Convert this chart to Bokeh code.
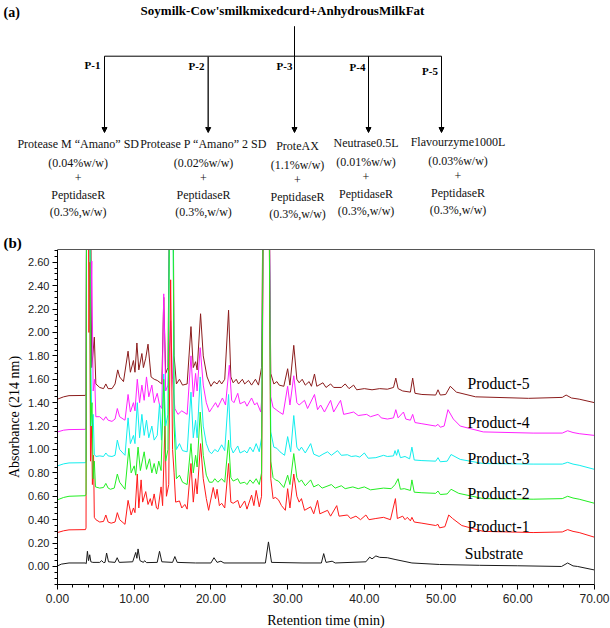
from bokeh.plotting import figure
from bokeh.models import (Range1d, ColumnDataSource, SingleIntervalTicker,
                          PrintfTickFormatter, Arrow, NormalHead, BoxAnnotation)
from bokeh.embed import file_html
from bokeh.resources import INLINE
from bokeh.core.properties import value

# ---------------- data ----------------
panel_a_tag = "(a)"
panel_b_tag = "(b)"
title_text = "Soymilk-Cow'smilkmixedcurd+AnhydrousMilkFat"
branch_labels = ["P-1", "P-2", "P-3", "P-4", "P-5"]
enzyme_names = ["Protease M \u201cAmano\u201d SD", "Protease P \u201cAmano\u201d 2 SD",
                "ProteAX", "Neutrase0.5L", "Flavourzyme1000L"]
enzyme_doses = ["(0.04%w/w)", "(0.02%w/w)", "(1.1%w/w)", "(0.01%w/w)", "(0.03%w/w)"]
plus_sign = "+"
peptidase_name = "PeptidaseR"
peptidase_dose = "(0.3%,w/w)"

x_label = "Retention time (min)"
y_label = "Absorbance (214 nm)"
t_min, t_max = 0, 70
a_min, a_max = -0.154, 2.709

substrate = [(0, 0.005), (0.5, 0.02), (1.5, 0.03), (3.6, 0.03), (3.75, 0.025), (3.9, 0.13),
             (4.05, 0.05), (4.2, 0.10), (4.35, 0.04), (4.6, 0.035), (5.5, 0.035), (5.76, 0.05),
             (6.0, 0.033), (6.2, 0.035), (6.4, 0.115), (6.65, 0.04), (7.5, 0.035), (7.78, 0.075),
             (8.05, 0.035), (9.8, 0.04), (10.2, 0.12), (10.35, 0.07), (10.5, 0.15), (10.75, 0.05),
             (11.2, 0.035), (11.35, 0.05), (11.6, 0.033), (13.0, 0.035), (13.3, 0.13), (13.6, 0.04),
             (15.0, 0.035), (15.3, 0.085), (15.6, 0.035), (18.0, 0.03), (20.0, 0.03), (20.4, 0.075),
             (20.8, 0.035), (21.3, 0.045), (21.7, 0.03), (27.1, 0.03), (27.5, 0.21), (27.9, 0.035),
             (32.0, 0.03), (34.4, 0.03), (34.7, 0.11), (35.0, 0.035), (35.8, 0.045), (36.2, 0.03),
             (40.2, 0.04), (40.7, 0.08), (41.0, 0.065), (41.5, 0.09), (42.0, 0.078), (43.0, 0.075),
             (44.0, 0.06), (46.2, 0.03), (49.8, 0.017), (55.0, 0.01), (60.0, 0.006), (65.7, 0.0),
             (66.5, 0.03), (67.2, 0.005), (67.8, 0.0), (70.0, -0.03)]

product_1 = [(0, 0.29), (0.8, 0.305), (1.5, 0.313), (3.65, 0.315), (3.72, 0.33), (3.8, 3.5),
             (4.0, 3.5), (4.1, 2.0), (4.2, 2.6), (4.3, 0.9), (4.45, 1.2), (4.55, 0.7), (4.7, 0.95),
             (4.8, 0.42), (5.0, 0.40), (5.5, 0.38), (6.0, 0.385), (6.3, 0.44), (6.6, 0.38),
             (7.0, 0.37), (7.5, 0.38), (7.8, 0.46), (8.1, 0.40), (8.8, 0.36), (9.2, 0.565),
             (9.6, 0.44), (9.9, 0.50), (10.1, 0.46), (10.4, 0.79), (10.6, 0.50), (10.9, 0.74),
             (11.1, 0.55), (11.5, 0.64), (11.8, 0.53), (12.1, 0.58), (12.3, 0.52), (12.6, 0.62),
             (12.9, 0.50), (13.1, 0.49), (13.5, 0.68), (13.7, 0.52), (14.0, 1.2), (14.2, 0.6),
             (14.5, 0.7), (14.75, 2.45), (15.0, 1.0), (15.2, 0.8), (15.4, 0.55), (15.9, 0.56),
             (16.2, 0.50), (16.6, 0.53), (16.9, 0.49), (17.4, 0.88), (17.7, 0.55), (18.0, 0.75),
             (18.2, 0.62), (18.65, 1.05), (19.0, 0.75), (19.4, 0.58), (19.7, 0.48), (20.3, 0.675),
             (20.6, 0.58), (20.8, 0.66), (21.1, 0.52), (21.4, 0.54), (21.8, 0.50), (22.3, 0.88),
             (22.6, 0.55), (22.9, 0.54), (23.5, 0.565), (23.8, 0.50), (24.4, 0.56), (24.7, 0.49),
             (25.3, 0.61), (25.6, 0.52), (25.9, 0.65), (26.3, 0.51), (26.6, 0.6), (26.9, 4.0),
             (27.5, 4.0), (27.8, 0.75), (28.1, 0.58), (28.4, 0.59), (28.8, 0.57), (29.2, 0.52),
             (29.7, 0.48), (30.0, 0.665), (30.3, 0.50), (30.8, 0.79), (31.2, 0.60), (31.5, 0.55),
             (31.8, 0.58), (32.2, 0.48), (33.0, 0.51), (33.4, 0.45), (33.9, 0.565), (34.2, 0.45),
             (35.2, 0.48), (35.6, 0.43), (36.4, 0.52), (36.7, 0.43), (37.8, 0.44), (38.2, 0.41),
             (38.9, 0.43), (39.5, 0.40), (40.2, 0.44), (40.6, 0.40), (41.5, 0.41), (42.5, 0.42),
             (43.4, 0.40), (44.05, 0.58), (44.3, 0.41), (45.0, 0.43), (45.3, 0.40), (45.6, 0.42),
             (46.0, 0.39), (46.2, 0.42), (46.5, 0.38), (47.5, 0.37), (49.3, 0.35), (49.6, 0.36),
             (49.8, 0.33), (50.5, 0.34), (51.0, 0.44), (51.5, 0.41), (52.7, 0.35), (55.5, 0.30),
             (62.0, 0.29), (65.8, 0.295), (66.5, 0.315), (67.2, 0.30), (68.0, 0.29), (70.0, 0.25)]

product_2 = [(0, 0.57), (0.8, 0.59), (1.5, 0.60), (3.65, 0.605), (3.72, 0.62), (3.8, 3.5),
             (4.2, 3.5), (4.3, 1.2), (4.5, 1.4), (4.65, 0.75), (4.8, 0.9), (4.95, 0.68), (5.5, 0.67),
             (6.0, 0.675), (6.3, 0.71), (6.6, 0.67), (6.9, 0.66), (7.4, 0.67), (7.8, 0.79),
             (8.1, 0.72), (8.8, 0.66), (9.3, 1.01), (9.6, 0.80), (10.0, 0.86), (10.2, 0.78),
             (10.5, 1.02), (10.8, 0.82), (11.3, 0.98), (11.6, 0.83), (12.0, 0.92), (12.3, 0.80),
             (12.6, 0.88), (12.9, 0.79), (13.2, 0.90), (13.5, 0.82), (13.85, 1.6), (14.1, 0.9),
             (14.4, 1.0), (14.7, 4.0), (15.0, 4.0), (15.2, 1.2), (15.5, 0.75), (15.9, 0.78),
             (16.3, 0.72), (16.9, 0.70), (17.4, 1.05), (17.7, 0.80), (18.0, 0.95), (18.2, 0.85),
             (18.6, 1.32), (19.0, 0.95), (19.4, 0.78), (19.8, 0.72), (20.2, 0.72), (20.5, 0.75),
             (20.9, 0.72), (21.4, 0.75), (21.8, 0.72), (22.3, 1.08), (22.6, 0.76), (22.9, 0.73),
             (23.5, 0.75), (23.8, 0.71), (24.4, 0.72), (24.7, 0.70), (25.1, 0.74), (25.5, 0.71),
             (25.9, 0.75), (26.3, 0.70), (26.6, 0.8), (26.9, 4.0), (27.5, 4.0), (27.8, 0.9),
             (28.1, 0.76), (28.4, 0.74), (28.8, 0.73), (29.5, 0.675), (30.0, 0.78), (30.3, 0.70),
             (30.8, 0.965), (31.2, 0.76), (31.5, 0.72), (31.8, 0.74), (32.3, 0.69), (33.0, 0.74),
             (33.4, 0.68), (34.0, 0.70), (34.5, 0.67), (35.7, 0.70), (36.2, 0.67), (37.0, 0.69),
             (37.5, 0.665), (38.5, 0.68), (39.2, 0.665), (40.0, 0.68), (40.8, 0.655), (42.5, 0.67),
             (43.5, 0.665), (44.0, 0.70), (44.4, 0.75), (44.7, 0.66), (45.2, 0.665), (46.0, 0.65),
             (46.2, 0.74), (46.5, 0.635), (47.5, 0.63), (49.3, 0.625), (49.6, 0.645), (49.9, 0.615),
             (50.8, 0.62), (51.3, 0.66), (52.3, 0.625), (55.5, 0.58), (62.0, 0.575), (65.8, 0.58),
             (66.5, 0.60), (67.2, 0.585), (68.0, 0.575), (70.0, 0.54)]

product_3 = [(0, 0.86), (0.8, 0.877), (1.5, 0.885), (3.65, 0.887), (3.72, 0.9), (3.8, 3.5),
             (4.2, 3.5), (4.35, 1.78), (4.5, 1.1), (4.65, 1.3), (4.8, 0.96), (5.0, 0.94),
             (5.5, 0.945), (6.0, 0.94), (6.3, 0.97), (6.6, 0.945), (7.1, 0.94), (7.5, 0.95),
             (7.8, 1.08), (8.1, 1.0), (8.8, 0.95), (9.2, 1.27), (9.5, 1.05), (9.9, 1.12),
             (10.1, 1.05), (10.4, 1.40), (10.7, 1.10), (11.0, 1.30), (11.3, 1.12), (11.6, 1.25),
             (11.9, 1.10), (12.3, 1.20), (12.6, 1.08), (13.0, 1.12), (13.3, 1.39), (13.55, 1.08),
             (13.85, 1.645), (14.1, 1.2), (14.4, 1.3), (14.7, 4.0), (15.0, 4.0), (15.2, 1.3),
             (15.5, 1.0), (15.9, 1.05), (16.3, 0.99), (16.9, 0.98), (17.4, 1.49), (17.7, 1.10),
             (18.0, 1.25), (18.2, 1.1), (18.6, 1.62), (19.0, 1.20), (19.4, 1.05), (19.8, 0.98),
             (20.1, 0.965), (20.5, 1.00), (20.9, 0.98), (21.4, 1.04), (21.8, 0.99), (22.3, 1.47),
             (22.6, 1.02), (22.9, 0.97), (23.5, 1.03), (23.8, 0.97), (24.4, 0.99), (24.7, 0.97),
             (25.1, 1.02), (25.5, 0.98), (25.9, 1.05), (26.3, 0.98), (26.6, 1.1), (26.9, 4.0),
             (27.5, 4.0), (27.8, 1.15), (28.2, 1.02), (28.6, 1.01), (29.0, 0.98), (29.6, 0.95),
             (30.0, 1.11), (30.4, 0.98), (30.8, 1.29), (31.2, 1.02), (31.5, 0.99), (31.8, 1.02),
             (32.3, 0.97), (33.0, 1.05), (33.4, 0.96), (34.1, 0.94), (34.6, 0.96), (35.2, 0.98),
             (35.7, 0.95), (36.5, 0.99), (37.0, 0.95), (37.8, 0.955), (38.3, 0.94), (38.9, 0.945),
             (39.4, 0.935), (40.0, 0.97), (40.5, 0.925), (41.5, 0.93), (42.5, 0.95), (43.0, 0.94),
             (43.8, 0.945), (44.0, 0.99), (44.2, 0.95), (44.4, 1.0), (44.7, 0.93), (45.3, 0.94),
             (45.9, 0.92), (46.2, 1.02), (46.5, 0.91), (47.5, 0.905), (49.3, 0.90), (49.6, 0.93),
             (49.9, 0.895), (50.8, 0.90), (51.3, 0.957), (52.5, 0.915), (55.5, 0.88), (62.0, 0.875),
             (65.8, 0.875), (66.5, 0.89), (67.2, 0.875), (68.0, 0.865), (70.0, 0.83)]

product_4 = [(0, 1.15), (0.8, 1.165), (1.5, 1.17), (3.65, 1.172), (3.72, 1.19), (3.8, 3.5),
             (4.2, 3.5), (4.3, 2.0), (4.47, 2.61), (4.65, 1.5), (4.85, 1.6), (5.0, 1.28),
             (5.5, 1.28), (6.0, 1.25), (6.3, 1.28), (6.6, 1.25), (7.1, 1.24), (7.5, 1.26),
             (7.8, 1.35), (8.1, 1.28), (8.8, 1.25), (9.2, 1.47), (9.5, 1.32), (9.9, 1.40),
             (10.1, 1.33), (10.4, 1.60), (10.7, 1.40), (11.0, 1.55), (11.3, 1.42), (11.6, 1.62),
             (11.9, 1.45), (12.3, 1.55), (12.6, 1.40), (13.0, 1.48), (13.3, 1.38), (13.6, 1.35),
             (13.85, 2.33), (14.1, 1.5), (14.4, 1.55), (14.75, 2.1), (15.0, 1.6), (15.3, 1.35),
             (15.7, 1.30), (16.2, 1.33), (16.9, 1.30), (17.4, 1.80), (17.7, 1.45), (18.0, 1.65),
             (18.2, 1.5), (18.6, 1.87), (19.0, 1.55), (19.4, 1.40), (19.8, 1.32), (20.2, 1.36),
             (20.6, 1.40), (20.9, 1.36), (21.5, 1.44), (21.9, 1.38), (22.4, 1.72), (22.7, 1.42),
             (23.0, 1.40), (23.5, 1.48), (23.8, 1.39), (24.4, 1.41), (24.7, 1.37), (25.3, 1.44),
             (25.7, 1.38), (26.0, 1.40), (26.5, 1.32), (26.7, 1.5), (26.9, 4.0), (27.5, 4.0),
             (27.8, 1.45), (28.1, 1.36), (28.5, 1.34), (28.9, 1.32), (29.4, 1.30), (30.0, 1.54),
             (30.3, 1.38), (30.8, 1.63), (31.2, 1.40), (31.5, 1.38), (32.2, 1.42), (32.6, 1.35),
             (33.5, 1.47), (33.9, 1.34), (34.3, 1.38), (34.8, 1.32), (35.6, 1.42), (36.0, 1.32),
             (36.9, 1.42), (37.3, 1.30), (38.0, 1.31), (38.6, 1.32), (39.2, 1.29), (40.3, 1.30),
             (40.8, 1.28), (41.8, 1.30), (42.2, 1.27), (43.0, 1.26), (43.8, 1.27), (44.1, 1.34),
             (44.4, 1.27), (45.1, 1.32), (45.4, 1.26), (46.0, 1.25), (46.3, 1.30), (46.6, 1.23),
             (47.5, 1.22), (49.3, 1.20), (49.6, 1.215), (49.9, 1.19), (50.4, 1.20), (50.9, 1.34),
             (51.6, 1.26), (52.5, 1.20), (55.5, 1.15), (62.0, 1.14), (65.8, 1.14), (66.5, 1.16),
             (67.2, 1.145), (68.0, 1.135), (70.0, 1.12)]

product_5 = [(0, 1.43), (0.8, 1.45), (1.5, 1.46), (3.65, 1.462), (3.72, 1.48), (3.8, 3.5),
             (4.3, 3.5), (4.45, 1.7), (4.6, 1.8), (4.8, 1.96), (5.0, 1.56), (5.5, 1.53),
             (6.0, 1.52), (6.3, 1.56), (6.6, 1.52), (7.1, 1.52), (7.5, 1.56), (7.85, 1.68),
             (8.1, 1.62), (8.6, 1.58), (9.2, 1.84), (9.5, 1.66), (9.9, 1.76), (10.1, 1.66),
             (10.35, 1.91), (10.6, 1.68), (11.0, 1.82), (11.2, 1.70), (11.5, 1.78), (11.8, 1.90),
             (12.2, 1.62), (12.6, 1.60), (13.0, 1.59), (13.4, 1.57), (13.6, 1.56), (13.85, 2.30),
             (14.1, 1.65), (14.4, 1.70), (14.7, 4.0), (15.0, 4.0), (15.2, 1.8), (15.5, 1.56),
             (15.9, 1.60), (16.3, 1.55), (16.9, 1.56), (17.4, 2.05), (17.7, 1.70), (18.0, 1.75),
             (18.2, 1.68), (18.65, 2.16), (19.0, 1.80), (19.5, 1.62), (20.0, 1.54), (20.4, 1.58),
             (20.8, 1.56), (21.1, 1.59), (21.4, 1.56), (21.8, 1.60), (22.3, 2.19), (22.6, 1.62),
             (22.9, 1.57), (23.3, 1.60), (23.6, 1.56), (24.1, 1.60), (24.4, 1.56), (24.9, 1.59),
             (25.3, 1.55), (25.8, 1.60), (26.2, 1.55), (26.6, 1.7), (26.9, 4.0), (27.5, 4.0),
             (27.8, 1.65), (28.2, 1.56), (28.6, 1.58), (28.9, 1.55), (29.5, 1.54), (30.0, 1.69),
             (30.3, 1.55), (30.8, 1.89), (31.2, 1.60), (31.5, 1.57), (31.9, 1.60), (32.3, 1.55),
             (32.8, 1.58), (33.1, 1.54), (33.5, 1.645), (33.8, 1.54), (34.6, 1.57), (35.0, 1.53),
             (35.6, 1.56), (36.0, 1.53), (37.0, 1.53), (37.5, 1.56), (38.0, 1.52), (38.6, 1.55),
             (39.0, 1.51), (40.0, 1.52), (41.0, 1.51), (42.0, 1.52), (43.0, 1.515), (43.8, 1.53),
             (44.1, 1.61), (44.4, 1.52), (45.0, 1.50), (46.0, 1.49), (46.3, 1.61), (46.6, 1.48),
             (47.5, 1.47), (49.3, 1.465), (49.6, 1.51), (49.9, 1.465), (50.6, 1.47), (51.2, 1.54),
             (52.0, 1.49), (54.5, 1.45), (61.4, 1.437), (65.8, 1.445), (66.3, 1.465), (67.0, 1.44),
             (68.0, 1.43), (70.0, 1.40)]

trace_names = ["Substrate", "Product-1", "Product-2", "Product-3", "Product-4", "Product-5"]
trace_label_t = [53.1, 53.46, 53.46, 53.46, 53.46, 53.46]
trace_label_v = [0.114, 0.343, 0.625, 0.923, 1.228, 1.56]

# ---------------- styles / layout ----------------
SERIF = "Liberation Serif"
SANS = "Liberation Sans"
colors = {"Substrate": "#1a1a1a", "Product-1": "#ff1a1a", "Product-2": "#22ee22",
          "Product-3": "#11eeee", "Product-4": "#ff22ff", "Product-5": "#8b1c1c"}

W, H = 610, 628
CX0, CX1 = 57, 594            # canvas x of t_min and t_max
CY0, CY1 = 584, 249           # canvas y of a_min and a_max

px_per_min = (CX1 - CX0) / (t_max - t_min)
px_per_abs = (CY0 - CY1) / (a_max - a_min)
x_rng = Range1d(t_min - CX0 / px_per_min, t_max + (W - CX1) / px_per_min)
y_rng = Range1d(a_min - (H - CY0) / px_per_abs, a_max + CY1 / px_per_abs)

p = figure(width=W, height=H, x_range=x_rng, y_range=y_rng,
           output_backend="svg", toolbar_location=None, min_border=0,
           outline_line_color=None)
p.grid.visible = False
# pixel coordinate system (canvas pixels, y downwards) for the scheme
p.extra_x_ranges = {"cx": Range1d(0, W)}
p.extra_y_ranges = {"cy": Range1d(H, 0)}

# ---- chromatograms ----
series = {"Substrate": substrate, "Product-1": product_1, "Product-2": product_2,
          "Product-3": product_3, "Product-4": product_4, "Product-5": product_5}
for name in ["Product-5", "Product-4", "Product-3", "Product-1", "Product-2", "Substrate"]:
    pts = series[name]
    src = ColumnDataSource(dict(t=[q[0] for q in pts], v=[q[1] for q in pts]))
    p.line("t", "v", source=src, line_color=colors[name], line_width=1)

p.text(x=trace_label_t, y=trace_label_v, text=trace_names, text_font=value(SERIF),
       text_font_size="15.7px", text_align="left", text_baseline="alphabetic",
       text_color="black")

# off-scale peaks are cut at the chart's top edge
p.add_layout(BoxAnnotation(bottom=a_max, fill_color="white", fill_alpha=1.0,
                           line_color=None, level="annotation"))
# top and right border of the chart
p.segment(x0=[t_min, t_max], y0=[a_max, a_min], x1=[t_max, t_max], y1=[a_max, a_max],
          line_color="#555555", line_width=1, level="overlay")

# axes (drawn at the chart's edges)
xa = p.xaxis[0]
ya = p.yaxis[0]
xa.bounds = (t_min, t_max)
ya.bounds = (a_min, a_max)
xa.fixed_location = a_min
ya.fixed_location = t_min
xa.ticker = SingleIntervalTicker(interval=10, num_minor_ticks=5)
ya.ticker = SingleIntervalTicker(interval=0.2, num_minor_ticks=4)
xa.formatter = PrintfTickFormatter(format="%.2f")
ya.formatter = PrintfTickFormatter(format="%.2f")
for ax in (xa, ya):
    ax.axis_line_color = "black"
    ax.major_tick_line_color = "black"
    ax.minor_tick_line_color = "black"
    ax.major_tick_out = 5
    ax.major_tick_in = 0
    ax.minor_tick_out = 3
    ax.minor_tick_in = 0
    ax.major_label_text_font = SANS
    ax.major_label_text_color = "#222222"
    ax.axis_label_text_font = SERIF
    ax.axis_label_text_font_style = "normal"
    ax.axis_label_text_font_size = "14px"
    ax.axis_label_text_color = "black"
xa.major_label_text_font_size = "12px"
ya.major_label_text_font_size = "11px"
xa.major_label_standoff = 4
ya.major_label_standoff = 3
xa.axis_label_standoff = 7
ya.axis_label_standoff = 3
xa.axis_label = x_label
ya.axis_label = y_label

# ---- scheme (a), in canvas pixels ----
def add_texts(xs, ys, texts, size="12px", style="normal", align="center", color="#111111"):
    p.text(x=xs, y=ys, text=texts, x_range_name="cx", y_range_name="cy",
           text_font=value(SERIF), text_font_size=size, text_font_style=style,
           text_align=align, text_baseline="middle", text_color=color, level="overlay")

add_texts([3], [12], [panel_a_tag], size="14px", style="bold", align="left", color="black")
add_texts([282], [10], [title_text], size="13px", style="bold", color="black")
add_texts([3], [242], [panel_b_tag], size="15px", style="bold", align="left", color="black")

branch_x = [104, 207.7, 294, 368, 441]
bar_y = 55.7
tip_y = 132
p.segment(x0=[294, branch_x[0]], y0=[25.7, bar_y], x1=[294, branch_x[-1]], y1=[bar_y, bar_y],
          x_range_name="cx", y_range_name="cy", line_color="black", line_width=1, level="overlay")
for i, bx in enumerate(branch_x):
    p.add_layout(Arrow(end=NormalHead(size=5, line_color="black", fill_color="black", line_width=1),
                       x_start=bx, y_start=bar_y, x_end=bx, y_end=tip_y,
                       x_range_name="cx", y_range_name="cy", level="overlay",
                       line_color="#333333" if i == 1 else "black",
                       line_width=1.6 if i == 1 else 1.0))

add_texts([100, 204, 292, 365, 437.5], [64, 65.5, 65.5, 66, 70], branch_labels,
          size="11px", style="bold", align="right", color="black")

col_x = [77.7, 203, 297, 365.5, 457.5]
col_dy = [0, 0, 2.3, -0.7, -1.8]
rows = [(enzyme_names, 143), (enzyme_doses, 162), ([plus_sign] * 5, 177),
        ([peptidase_name] * 5, 194), ([peptidase_dose] * 5, 211)]
for texts, yy in rows:
    add_texts(col_x, [yy + d for d in col_dy], texts)

open("out.html", "w").write(file_html(p, INLINE))
